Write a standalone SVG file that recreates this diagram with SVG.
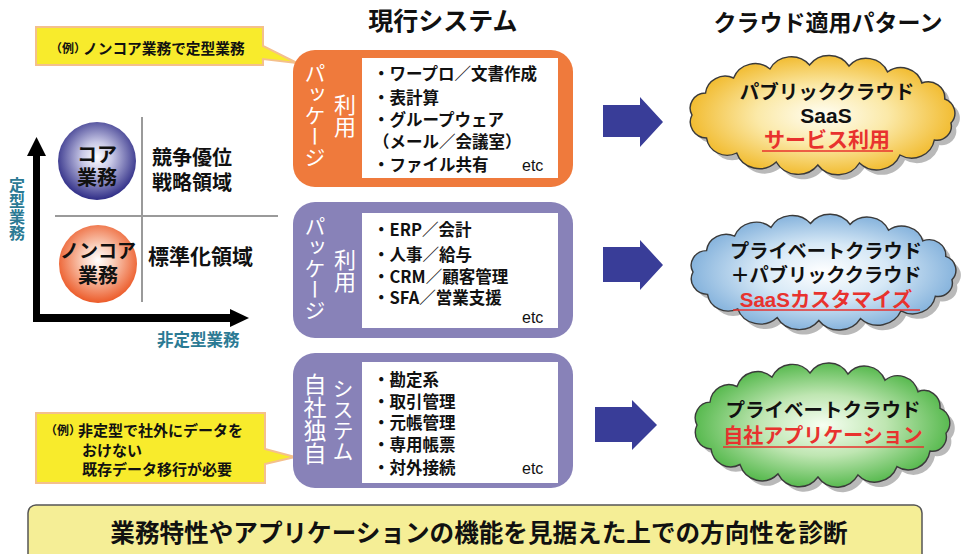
<svg xmlns="http://www.w3.org/2000/svg" xmlns:xlink="http://www.w3.org/1999/xlink" width="965" height="554" viewBox="0 0 965 554">
<style>
text{font-family:"Noto Sans CJK JP","Noto Sans",sans-serif;font-weight:700;fill:#111}
.title{font-size:24px}
.item{font-size:16.5px}
.etc{font-family:"Liberation Sans",Arial,sans-serif;font-weight:400;font-size:16px}
.vert{writing-mode:vertical-rl;font-weight:400;fill:#fff}
.teal{fill:#2b7a94}
.red{fill:#e8322e}
.ul{stroke:#e8322e;stroke-width:1.6}
.box-o{fill:#ef7a3c}
.box-p{fill:#8882b8}
.inner{fill:#fff}
.callout{fill:#f8eb2c;stroke:#f4c08c;stroke-width:2}
.cloudline{stroke:#3a3a3a;stroke-width:1.4}
.barrow{fill:#393d98}
.grid{stroke:#9a9a9a;stroke-width:2}
</style>
<defs>
<path id="cloud" d="M -125,0 A 15 15 0 0 1 -112,-22 A 19 19 0 0 1 -85,-37 A 22 22 0 0 1 -50,-46 A 23 23 0 0 1 -12,-50 A 23 23 0 0 1 26,-49 A 22 22 0 0 1 63,-43 A 21 21 0 0 1 96,-32 A 16 16 0 0 1 118,-16 A 15 15 0 0 1 124,8 A 14 14 0 0 1 108,25 A 22 22 0 0 1 75,40 A 24 24 0 0 1 36,48 A 24 24 0 0 1 -4,50 A 24 24 0 0 1 -44,47 A 23 23 0 0 1 -82,38 A 20 20 0 0 1 -111,23 A 16 16 0 0 1 -125,0 Z"/>
<radialGradient id="gY" cx="0.5" cy="0.5" r="0.55"><stop offset="0" stop-color="#fffef4"/><stop offset="0.45" stop-color="#fbe9a8"/><stop offset="1" stop-color="#f0b41c"/></radialGradient>
<radialGradient id="gB" cx="0.5" cy="0.5" r="0.55"><stop offset="0" stop-color="#ffffff"/><stop offset="0.45" stop-color="#d6e8f6"/><stop offset="1" stop-color="#78aad8"/></radialGradient>
<radialGradient id="gG" cx="0.5" cy="0.5" r="0.55"><stop offset="0" stop-color="#f6fff2"/><stop offset="0.45" stop-color="#bfe6b2"/><stop offset="1" stop-color="#46b23e"/></radialGradient>
<radialGradient id="gCore" cx="0.5" cy="0.45" r="0.55"><stop offset="0" stop-color="#ffffff"/><stop offset="0.35" stop-color="#c8c8e6"/><stop offset="1" stop-color="#2e2c86"/></radialGradient>
<radialGradient id="gNon" cx="0.5" cy="0.45" r="0.55"><stop offset="0" stop-color="#ffffff"/><stop offset="0.35" stop-color="#fad0bc"/><stop offset="1" stop-color="#ec5a28"/></radialGradient>
</defs>

<rect width="965" height="554" fill="#fff"/>

<!-- titles -->
<g id="titles">
<text class="title" x="443" y="30" text-anchor="middle" style="font-size:25px">現行システム</text>
<text class="title" x="828" y="31" text-anchor="middle" style="font-size:23px">クラウド適用パターン</text>
</g>

<!-- callouts -->
<g id="callout1">
<path class="callout" d="M36,27 H263 V46 L297,63 L263,59 V65 H36 Z"/>
<text x="50" y="53" style="font-size:12px">（例）</text>
<text x="83" y="54" style="font-size:14.7px">ノンコア業務で定型業務</text>
</g>
<g id="callout2">
<path class="callout" d="M36,413 H265 V449 L295,457 L265,464 V483 H36 Z"/>
<text x="45" y="435" style="font-size:12px">（例）</text>
<text x="78" y="436" style="font-size:15px">非定型で社外にデータを</text>
<text x="82" y="456" style="font-size:15px">おけない</text>
<text x="82" y="475" style="font-size:15px">既存データ移行が必要</text>
</g>

<!-- matrix -->
<g id="matrix">
<line class="grid" x1="142" y1="117" x2="142" y2="302"/>
<line class="grid" x1="55" y1="216" x2="278" y2="216"/>
<rect x="33" y="153" width="7" height="169" fill="#000"/>
<polygon points="27,156 36.5,137 46,156" fill="#000"/>
<rect x="33" y="314" width="199" height="8" fill="#000"/>
<polygon points="230,309 249,318 230,327" fill="#000"/>
<text class="teal vert" x="17" y="177" style="font-size:16px;font-weight:700;fill:#2b7a94">定型業務</text>
<text class="teal" x="157" y="346" style="font-size:16.5px">非定型業務</text>
<text x="152" y="165" style="font-size:20px">競争優位</text>
<text x="152" y="190" style="font-size:20px">戦略領域</text>
<text x="148" y="264" style="font-size:21px">標準化領域</text>
</g>
<g id="core">
<circle cx="97" cy="161" r="39" fill="url(#gCore)"/>
<text x="97" y="162" text-anchor="middle" style="font-size:20px">コア</text>
<text x="97" y="185" text-anchor="middle" style="font-size:20px">業務</text>
</g>
<g id="noncore">
<circle cx="98" cy="264" r="39" fill="url(#gNon)"/>
<text x="98" y="258" text-anchor="middle" style="font-size:19px">ノンコア</text>
<text x="98" y="283" text-anchor="middle" style="font-size:20px">業務</text>
</g>

<!-- current systems -->
<g id="box1">
<rect class="box-o" x="293" y="50" width="280" height="137" rx="22"/>
<rect class="inner" x="362" y="58" width="196" height="120"/>
<text class="vert" x="315" y="63" style="font-size:21px">パッケージ</text>
<text class="vert" x="345" y="94" style="font-size:22px">利用</text>
<text class="item" x="373" y="80">・ワープロ／文書作成</text>
<text class="item" x="373" y="104">・表計算</text>
<text class="item" x="373" y="126">・グループウェア</text>
<text class="item" x="373" y="148">（メール／会議室）</text>
<text class="item" x="373" y="171">・ファイル共有</text>
<text class="etc" x="522" y="171">etc</text>
</g>
<g id="box2">
<rect class="box-p" x="293" y="202" width="280" height="136" rx="22"/>
<rect class="inner" x="362" y="213" width="196" height="115"/>
<text class="vert" x="315" y="216" style="font-size:21px">パッケージ</text>
<text class="vert" x="345" y="249" style="font-size:22px">利用</text>
<text class="item" x="373" y="236">・ERP／会計</text>
<text class="item" x="373" y="261">・人事／給与</text>
<text class="item" x="373" y="283">・CRM／顧客管理</text>
<text class="item" x="373" y="304">・SFA／営業支援</text>
<text class="etc" x="522" y="323">etc</text>
</g>
<g id="box3">
<rect class="box-p" x="293" y="353" width="280" height="135" rx="22"/>
<rect class="inner" x="362" y="362" width="196" height="121"/>
<text class="vert" x="315" y="373" style="font-size:23px">自社独自</text>
<text class="vert" x="343" y="378" style="font-size:21px">システム</text>
<text class="item" x="373" y="386">・勘定系</text>
<text class="item" x="373" y="408">・取引管理</text>
<text class="item" x="373" y="429">・元帳管理</text>
<text class="item" x="373" y="451">・専用帳票</text>
<text class="item" x="373" y="474">・対外接続</text>
<text class="etc" x="522" y="474">etc</text>
</g>

<!-- connectors -->
<g id="connectors">
<polygon class="barrow" points="603,105 640,105 640,97 663,122 640,147 640,137 603,137"/>
<polygon class="barrow" points="603,247 640,247 640,240 663,265 640,290 640,282 603,282"/>
<polygon class="barrow" points="595,407 632,407 632,400 657,425 632,450 632,442 595,442"/>
</g>

<!-- clouds -->
<g id="cloud1">
<use href="#cloud" xlink:href="#cloud" fill="#808080" opacity="0.55" transform="translate(827,120) scale(1.04,1.0)"/>
<use href="#cloud" xlink:href="#cloud" class="cloudline" fill="url(#gY)" transform="translate(822,115) scale(1.04,1.0)"/>
<text x="827" y="99" text-anchor="middle" style="font-size:19.5px">パブリッククラウド</text>
<text x="826" y="123" text-anchor="middle" style="font-family:'Liberation Sans',Arial,sans-serif;font-size:21px">SaaS</text>
<text class="red" x="827" y="147" text-anchor="middle" style="font-size:21px">サービス利用</text>
<line class="ul" x1="762" y1="151" x2="893" y2="151"/>
</g>
<g id="cloud2">
<use href="#cloud" xlink:href="#cloud" fill="#808080" opacity="0.55" transform="translate(828,277) scale(1.04,0.97)"/>
<use href="#cloud" xlink:href="#cloud" class="cloudline" fill="url(#gB)" transform="translate(823,272) scale(1.04,0.97)"/>
<text x="826" y="258" text-anchor="middle" style="font-size:19.2px">プライベートクラウド</text>
<text x="826" y="282" text-anchor="middle" style="font-size:19.2px">＋パブリッククラウド</text>
<text class="red" x="826" y="307" text-anchor="middle" style="font-size:20.5px"><tspan style="font-family:'Liberation Sans',Arial,sans-serif">SaaS</tspan>カスタマイズ</text>
<line class="ul" x1="733" y1="310" x2="920" y2="310"/>
</g>
<g id="cloud3">
<use href="#cloud" xlink:href="#cloud" fill="#808080" opacity="0.55" transform="translate(827,430) scale(1.0,1.04)"/>
<use href="#cloud" xlink:href="#cloud" class="cloudline" fill="url(#gG)" transform="translate(822,425) scale(1.0,1.04)"/>
<text x="823" y="417" text-anchor="middle" style="font-size:19.5px">プライベートクラウド</text>
<text class="red" x="823" y="443" text-anchor="middle" style="font-size:20px">自社アプリケーション</text>
<line class="ul" x1="723" y1="447" x2="924" y2="447"/>
</g>

<!-- banner -->
<g id="banner">
<rect x="28" y="505" width="894" height="70" rx="8" fill="#f5ee96" stroke="#555" stroke-width="1.5"/>
<text x="479" y="542" text-anchor="middle" style="font-size:24.6px">業務特性やアプリケーションの機能を見据えた上での方向性を診断</text>
</g>
</svg>
